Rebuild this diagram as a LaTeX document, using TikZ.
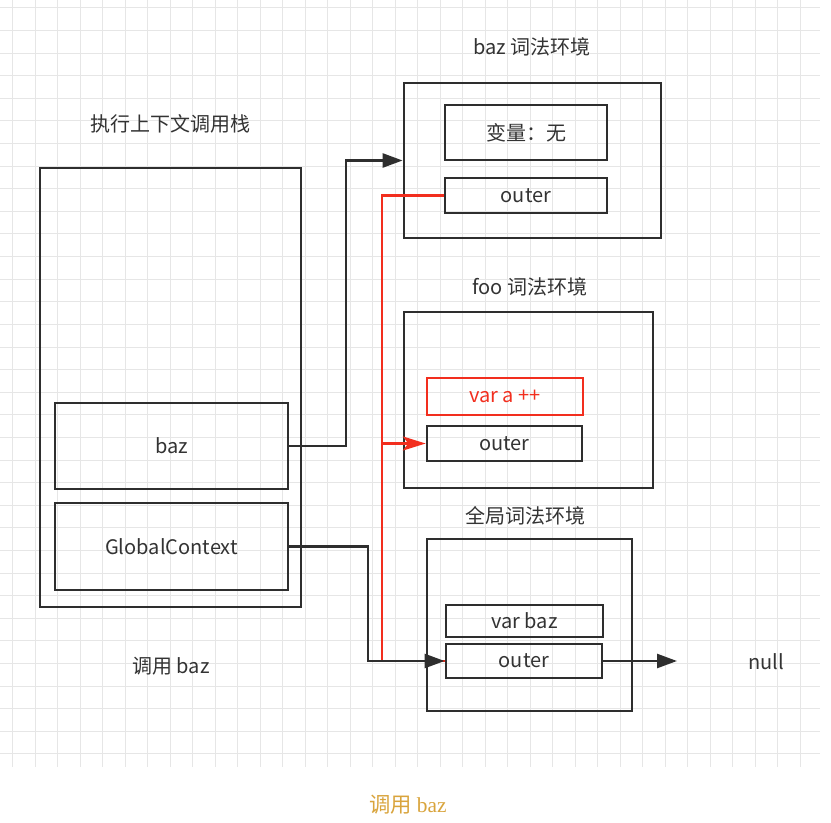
\documentclass[tikz,border=0pt]{standalone}
\usepackage{fontspec}
\setmainfont{Noto Sans CJK SC}
\newfontfamily\capserif{Liberation Serif}
\usetikzlibrary{arrows.meta,fit,calc}
\definecolor{ink}{HTML}{2E2E2E}
\definecolor{txt}{HTML}{333333}
\definecolor{hot}{HTML}{F22E1E}
\definecolor{gridc}{HTML}{E6E6E6}
\definecolor{gold}{HTML}{D9A43C}
\tikzset{
  box/.style={draw=ink, line width=2.1pt, inner sep=0pt},
  redbox/.style={box, draw=hot},
  lbl/.style={text=txt, inner sep=0pt, font=\fontsize{15pt}{18pt}\selectfont},
  redlbl/.style={lbl, text=hot},
  conn/.style={draw=ink, line width=1.9pt, -{Triangle[length=15pt,width=10.5pt]}},
  redline/.style={draw=hot, line width=1.9pt},
  redarrow/.style={draw=hot, line width=1.9pt, -{Stealth[length=17pt,width=10.5pt,inset=4pt]}}
}
\begin{document}
\begin{tikzpicture}[x=0.75pt,y=-0.75pt]
\useasboundingbox (0,0) rectangle (831,823);
\fill[white] (0,0) rectangle (831,823);
% grid
\foreach \gx in {12.5,35,...,820} \draw[gridc, line width=0.75pt] (\gx,0) -- (\gx,767);
\foreach \gy in {8,30.6,...,767} \draw[gridc, line width=0.75pt] (0,\gy) -- (820,\gy);

% execution context stack
\node[lbl] (stacktitle) at (170,124) {执行上下文调用栈};
\node[box, fit={(40,168)(301,607)}] (stack) {};
\node[box, fit={(55,403)(288,489)}] (bazf) {};
\node[lbl] (bazft) at (bazf.center) {baz};
\node[box, fit={(55,503)(288,590)}] (glob) {};
\node[lbl] (globt) at (glob.center) {GlobalContext};
\node[lbl] (call) at (171,666) {调用 baz};

% baz lexical env
\node[lbl] (baztitle) at (532,47) {baz 词法环境};
\node[box, fit={(404,83)(661,238)}] (bazenv) {};
\node[box, fit={(445,105)(607,160)}] (bazvar) {};
\node[lbl] (bazvart) at (bazvar.center) {变量：无};
\node[box, fit={(445,178)(607,213)}] (bazouter) {};
\node[lbl] (bazoutert) at (bazouter.center) {outer};

% foo lexical env
\node[lbl] (footitle) at (530,287) {foo 词法环境};
\node[box, fit={(404,312)(653,488)}] (fooenv) {};
\node[redbox, fit={(427,378)(583,415)}] (fooa) {};
\node[redlbl] (fooat) at (fooa.center) {var a ++};
\node[box, fit={(427,426)(582,461)}] (foouter) {};
\node[lbl] (foutert) at (foouter.center) {outer};

% global lexical env
\node[lbl] (gtitle) at (525,516) {全局词法环境};
\node[box, fit={(427,539)(632,711)}] (genv) {};
\node[box, fit={(446,605)(603,637)}] (gvar) {};
\node[lbl] (gvart) at (gvar.center) {var baz};
\node[box, fit={(446,644)(602,678)}] (gouter) {};
\node[lbl] (goutert) at (gouter.center) {outer};

\node[lbl] (null) at (766,662) {null};

% connectors
\coordinate (c1) at (346,446);
\draw[conn] (bazf.east) -- (c1) |- (bazenv.west);

\coordinate (c3) at (382,661);
\draw[redline] (bazouter.west) -| (c3) -- (gouter.west);
\draw[redarrow] (c3 |- foouter.west) -- (foouter.west);

\coordinate (c2) at (368,661);
\draw[conn] (glob.east) -| (c2) -- (gouter.west);

\coordinate (nullend) at (677,661);
\draw[conn] (gouter.east) -- (nullend);

% caption
\node[text=gold, inner sep=0pt, font=\fontsize{16pt}{18pt}\selectfont] (caption) at (408,805) {调用 {\capserif baz}};
\end{tikzpicture}
\end{document}
